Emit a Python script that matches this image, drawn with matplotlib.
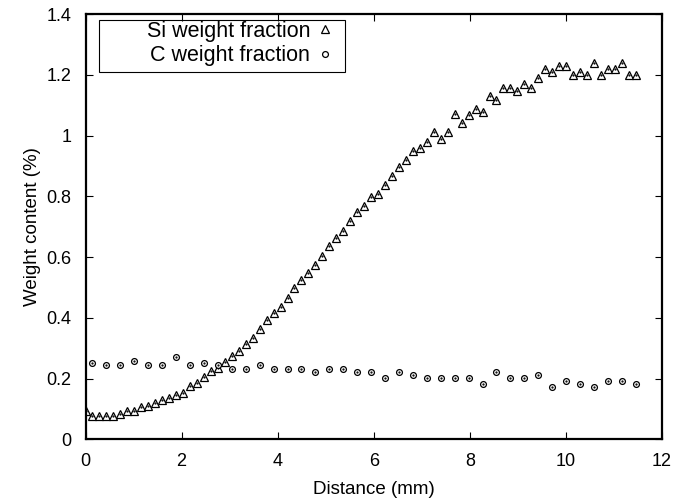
import numpy as np
import matplotlib
matplotlib.use("Agg")
import matplotlib.pyplot as plt
from matplotlib.patches import Rectangle

plt.rcParams["font.family"] = ["Liberation Sans", "DejaVu Sans"]

# step between Si measurements (mm)
step = 0.145

si_frac = [0.093, 0.077, 0.077, 0.077, 0.077, 0.083, 0.093, 0.093, 0.105, 0.108,
           0.119, 0.130, 0.137, 0.146, 0.154, 0.176, 0.185, 0.204, 0.224, 0.236,
           0.255, 0.275, 0.291, 0.314, 0.334, 0.364, 0.394, 0.416, 0.436, 0.465,
           0.498, 0.526, 0.546, 0.575, 0.605, 0.636, 0.664, 0.687, 0.718, 0.748,
           0.768, 0.798, 0.808, 0.836, 0.867, 0.896, 0.919, 0.949, 0.958, 0.979,
           1.010, 0.988, 1.010, 1.070, 1.040, 1.069, 1.087, 1.078, 1.129, 1.118,
           1.158, 1.158, 1.147, 1.168, 1.158, 1.188, 1.219, 1.208, 1.229, 1.230,
           1.199, 1.208, 1.199, 1.239, 1.199, 1.219, 1.219, 1.239, 1.199, 1.199]

c_frac = [0.252, 0.245, 0.245, 0.259, 0.245, 0.245, 0.272, 0.245, 0.252, 0.244,
          0.232, 0.232, 0.243, 0.232, 0.232, 0.232, 0.223, 0.232, 0.232, 0.223,
          0.223, 0.201, 0.222, 0.211, 0.201, 0.201, 0.201, 0.201, 0.182, 0.222,
          0.201, 0.201, 0.213, 0.172, 0.192, 0.182, 0.172, 0.192, 0.192, 0.182]

si_x = np.arange(len(si_frac)) * step
c_x = step + np.arange(len(c_frac)) * 2 * step

xticks = [0, 2, 4, 6, 8, 10, 12]
yticks = [0, 0.2, 0.4, 0.6, 0.8, 1, 1.2, 1.4]
ytick_labels = ["0", "0.2", "0.4", "0.6", "0.8", "1", "1.2", "1.4"]

W, H = 680, 501
x0, x1, y0, y1 = 85.5, 662.0, 439.3, 14.0   # axes box in pixels
aw, ah = x1 - x0, y0 - y1

fig = plt.figure(figsize=(W / 100, H / 100), dpi=100)
ax = fig.add_axes([x0 / W, 1 - y0 / H, aw / W, ah / H])

ax.plot(si_x, si_frac, linestyle="none", marker="^", markersize=6.2,
        markerfacecolor="white", markeredgecolor="black", markeredgewidth=0.9,
        label="Si weight fraction")
ax.plot(si_x, si_frac, linestyle="none", marker=".", markersize=1.2,
        color="black")
ax.plot(c_x, c_frac, linestyle="none", marker="o", markersize=4.2,
        markerfacecolor="white", markeredgecolor="black", markeredgewidth=0.9,
        label="C weight fraction")
ax.plot(c_x, c_frac, linestyle="none", marker=".", markersize=1.2,
        color="black")

ax.set_xlim(0, 12)
ax.set_ylim(0, 1.4)
ax.set_xticks(xticks)
ax.set_yticks(yticks)
ax.set_yticklabels(ytick_labels)
ax.tick_params(direction="in", length=5, width=0.8, top=True, right=True,
               labelsize=13, colors="black", pad=10)
for s in ax.spines.values():
    s.set_linewidth(1.6)

ax.set_xlabel("Distance (mm)", fontsize=13.5, labelpad=8)
ax.set_ylabel("Weight content (%)", fontsize=13.5, labelpad=4)

# key: text right-aligned, sample on the right, own frame like gnuplot
leg = ax.legend(loc="upper right",
                bbox_to_anchor=((336 - x0) / aw, 1 - (21 - y1) / ah),
                borderaxespad=0, borderpad=0, markerfirst=False,
                frameon=False, fontsize=15.5, handlelength=1.0,
                handletextpad=0.2, labelspacing=0.15)
ax.add_patch(Rectangle(((99 - x0) / aw, 1 - (72 - y1) / ah),
                       (345 - 99) / aw, (72 - 20) / ah,
                       transform=ax.transAxes, fill=False,
                       edgecolor="black", linewidth=0.8, zorder=5))

fig.savefig("out.png", dpi=100)
